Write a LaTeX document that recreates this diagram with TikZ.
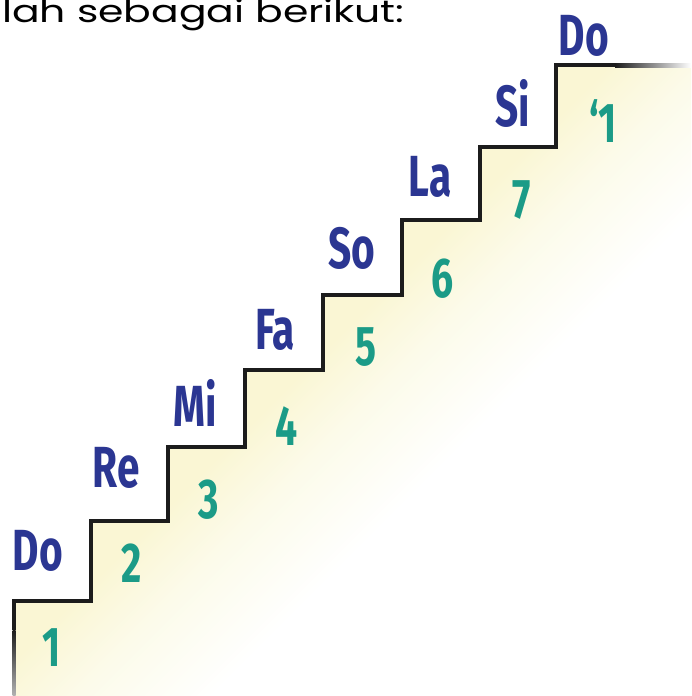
\documentclass[tikz,border=0pt]{standalone}
\usepackage{fontspec}
\usepackage{xcolor}
\newfontfamily\solfafont[FakeStretch=0.7]{Fira Sans}
\newfontfamily\introfont[FakeStretch=1.32]{Poppins}
\definecolor{solfablue}{RGB}{43,54,146}
\definecolor{solfateal}{RGB}{27,155,135}
\definecolor{stairline}{RGB}{28,28,28}
\definecolor{stairglow}{RGB}{250,246,212}
\definecolor{stairglowhalf}{RGB}{252,251,234}
\pgfdeclarehorizontalshading{glowshade}{100bp}{color(0bp)=(stairglow); color(49bp)=(stairglow); color(54bp)=(stairglowhalf); color(61bp)=(white); color(100bp)=(white)}
\tikzset{
  syllable/.style={font=\solfafont\bfseries\fontsize{58}{58}\selectfont, text=solfablue, inner sep=0pt},
  degree/.style={font=\solfafont\bfseries\fontsize{56}{56}\selectfont, text=solfateal, inner sep=0pt},
  intro/.style={font=\introfont\fontsize{31}{31}\selectfont, inner sep=0pt},
  stair/.style={draw=stairline, line width=4pt, line join=miter},
}
\begin{document}
\begin{tikzpicture}[x=1pt,y=-1pt]
  \useasboundingbox (0,0) rectangle (691,696);
  \clip (0,0) rectangle (691,696);
  % soft glow below the stairs
  \begin{scope}
    \clip (14,696) -- (14,601) -- (91,601) -- (91,521) -- (168,521) -- (168,447)
      -- (245,447) -- (245,370) -- (323,370) -- (323,295) -- (402,295) -- (402,220)
      -- (480,220) -- (480,147) -- (556,147) -- (556,65) -- (691,65) -- (691,696) -- cycle;
    \shade[shading=glowshade, shading angle=-45] (0,0) rectangle (691,696);
  \end{scope}
  % the stairs
  \draw[stair] (14,630) -- (14,601) -- (91,601) -- (91,521) -- (168,521) -- (168,447)
    -- (245,447) -- (245,370) -- (323,370) -- (323,295) -- (402,295) -- (402,220)
    -- (480,220) -- (480,147) -- (556,147) -- (556,65) -- (615,65);
  \shade[left color=stairline, right color=white] (615,63) rectangle (691,67);
  \shade[top color=stairline, bottom color=gray!60] (12.5,630) rectangle (15.5,696);
  % intro line, cut at the top
  \node[intro, anchor=base west] (intro) at (2,23) {lah sebagai berikut:};
  % syllables
  \node[syllable] (do1) at (38,551) {Do};
  \node[syllable] (re) at (116,468) {Re};
  \node[syllable] (mi) at (195,403) {Mi};
  \node[syllable] (fa) at (275,330) {Fa};
  \node[syllable] (so) at (352,248) {So};
  \node[syllable] (la) at (430,177) {La};
  \node[syllable] (si) at (513,103) {Si};
  \node[syllable] (do8) at (584,36) {Do};
  % numbers
  \node[degree] (n1) at (52,648) {1};
  \node[degree] (n2) at (132,563) {2};
  \node[degree] (n3) at (209,500) {3};
  \node[degree] (n4) at (287,426) {4};
  \node[degree] (n5) at (366,347) {5};
  \node[degree] (n6) at (443,279) {6};
  \node[degree] (n7) at (522,200) {7};
  \node[degree] (n8) at (603,121) {‘1};
\end{tikzpicture}
\end{document}
